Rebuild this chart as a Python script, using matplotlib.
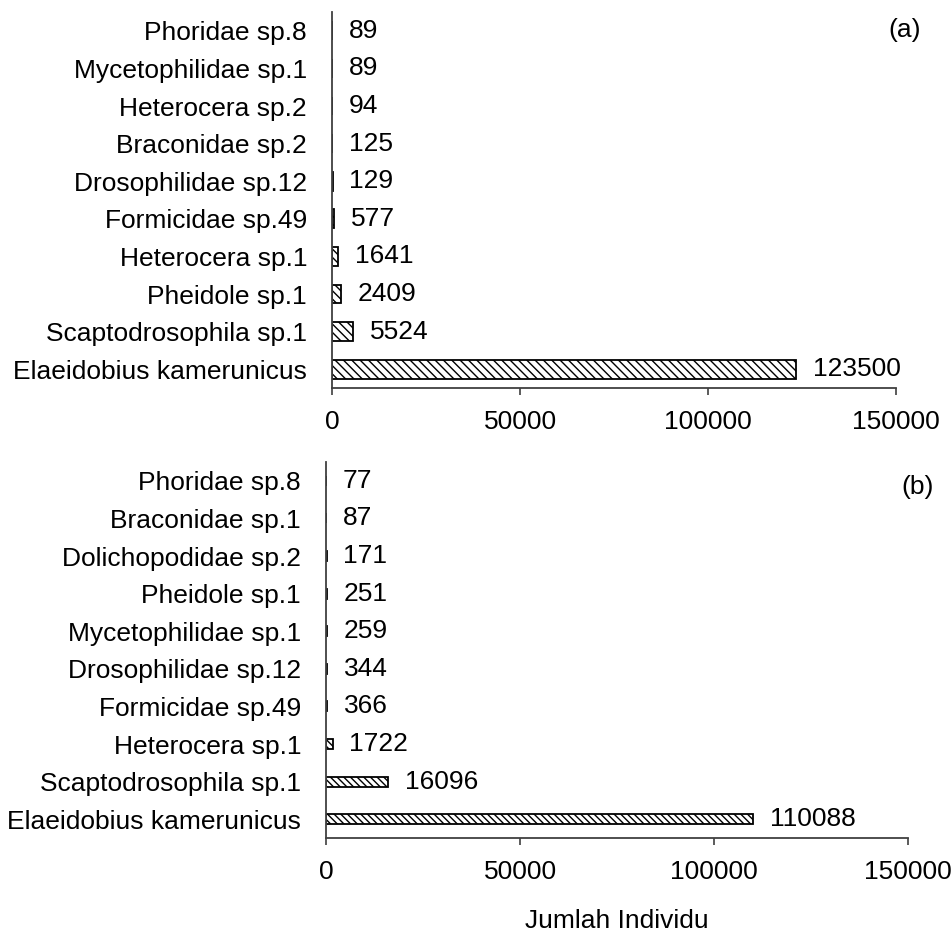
import matplotlib
matplotlib.use("Agg")
import matplotlib.pyplot as plt
import numpy as np

plt.rcParams['font.family'] = ['Liberation Sans', 'DejaVu Sans']
plt.rcParams['hatch.linewidth'] = 1.0

# Panel (a)
species_a = ["Elaeidobius kamerunicus", "Scaptodrosophila sp.1", "Pheidole sp.1",
             "Heterocera sp.1", "Formicidae sp.49", "Drosophilidae sp.12",
             "Braconidae sp.2", "Heterocera sp.2", "Mycetophilidae sp.1",
             "Phoridae sp.8"]
counts_a = [123500, 5524, 2409, 1641, 577, 129, 125, 94, 89, 89]

# Panel (b)
species_b = ["Elaeidobius kamerunicus", "Scaptodrosophila sp.1", "Heterocera sp.1",
             "Formicidae sp.49", "Drosophilidae sp.12", "Mycetophilidae sp.1",
             "Pheidole sp.1", "Dolichopodidae sp.2", "Braconidae sp.1",
             "Phoridae sp.8"]
counts_b = [110088, 16096, 1722, 366, 344, 259, 251, 171, 87, 77]

xticks = [0, 50000, 100000, 150000]

fig = plt.figure(figsize=(9.53, 9.33), dpi=100)
ax_a = fig.add_axes([0.3484, 0.5841, 0.5918, 0.4030])
ax_b = fig.add_axes([0.3421, 0.1018, 0.6107, 0.4030])

FS = 19


def draw_panel(ax, names, vals, bar_h, hatch, tag, tag_xy, xpad):
    y = np.arange(len(names))
    bars = ax.barh(y, vals, height=bar_h, color='white', edgecolor='black',
                   linewidth=1.3, hatch=hatch)
    for b, v in zip(bars, vals):
        ax.annotate(f"{v}", xy=(b.get_width(), b.get_y() + b.get_height() / 2),
                    xytext=(12, 0), textcoords='offset points',
                    ha='left', va='center', fontsize=FS, color='black')
    ax.set_yticks(y)
    ax.set_yticklabels(names, fontsize=FS)
    ax.set_ylim(-0.5, len(names) - 0.5)
    ax.set_xlim(0, 150000)
    ax.set_xticks(xticks)
    ax.set_xticklabels([str(t) for t in xticks], fontsize=FS)
    ax.tick_params(axis='y', length=0, pad=18)
    ax.tick_params(axis='x', length=5, width=1.2, color='#404040', pad=xpad)
    for s in ['top', 'right']:
        ax.spines[s].set_visible(False)
    for s in ['left', 'bottom']:
        ax.spines[s].set_color('#404040')
        ax.spines[s].set_linewidth(1.3)
    ax.text(tag_xy[0], tag_xy[1], tag, transform=ax.transAxes, ha='center',
            va='center', fontsize=FS, clip_on=False)


draw_panel(ax_a, species_a, counts_a, 0.5, '\\\\\\\\', '(a)', (1.016, 0.952), 11)
draw_panel(ax_b, species_b, counts_b, 0.27, '\\\\\\\\\\', '(b)', (1.016, 0.933), 11)

ax_b.set_xlabel("Jumlah Individu", fontsize=FS, labelpad=18)

fig.savefig("out.png", dpi=100)
